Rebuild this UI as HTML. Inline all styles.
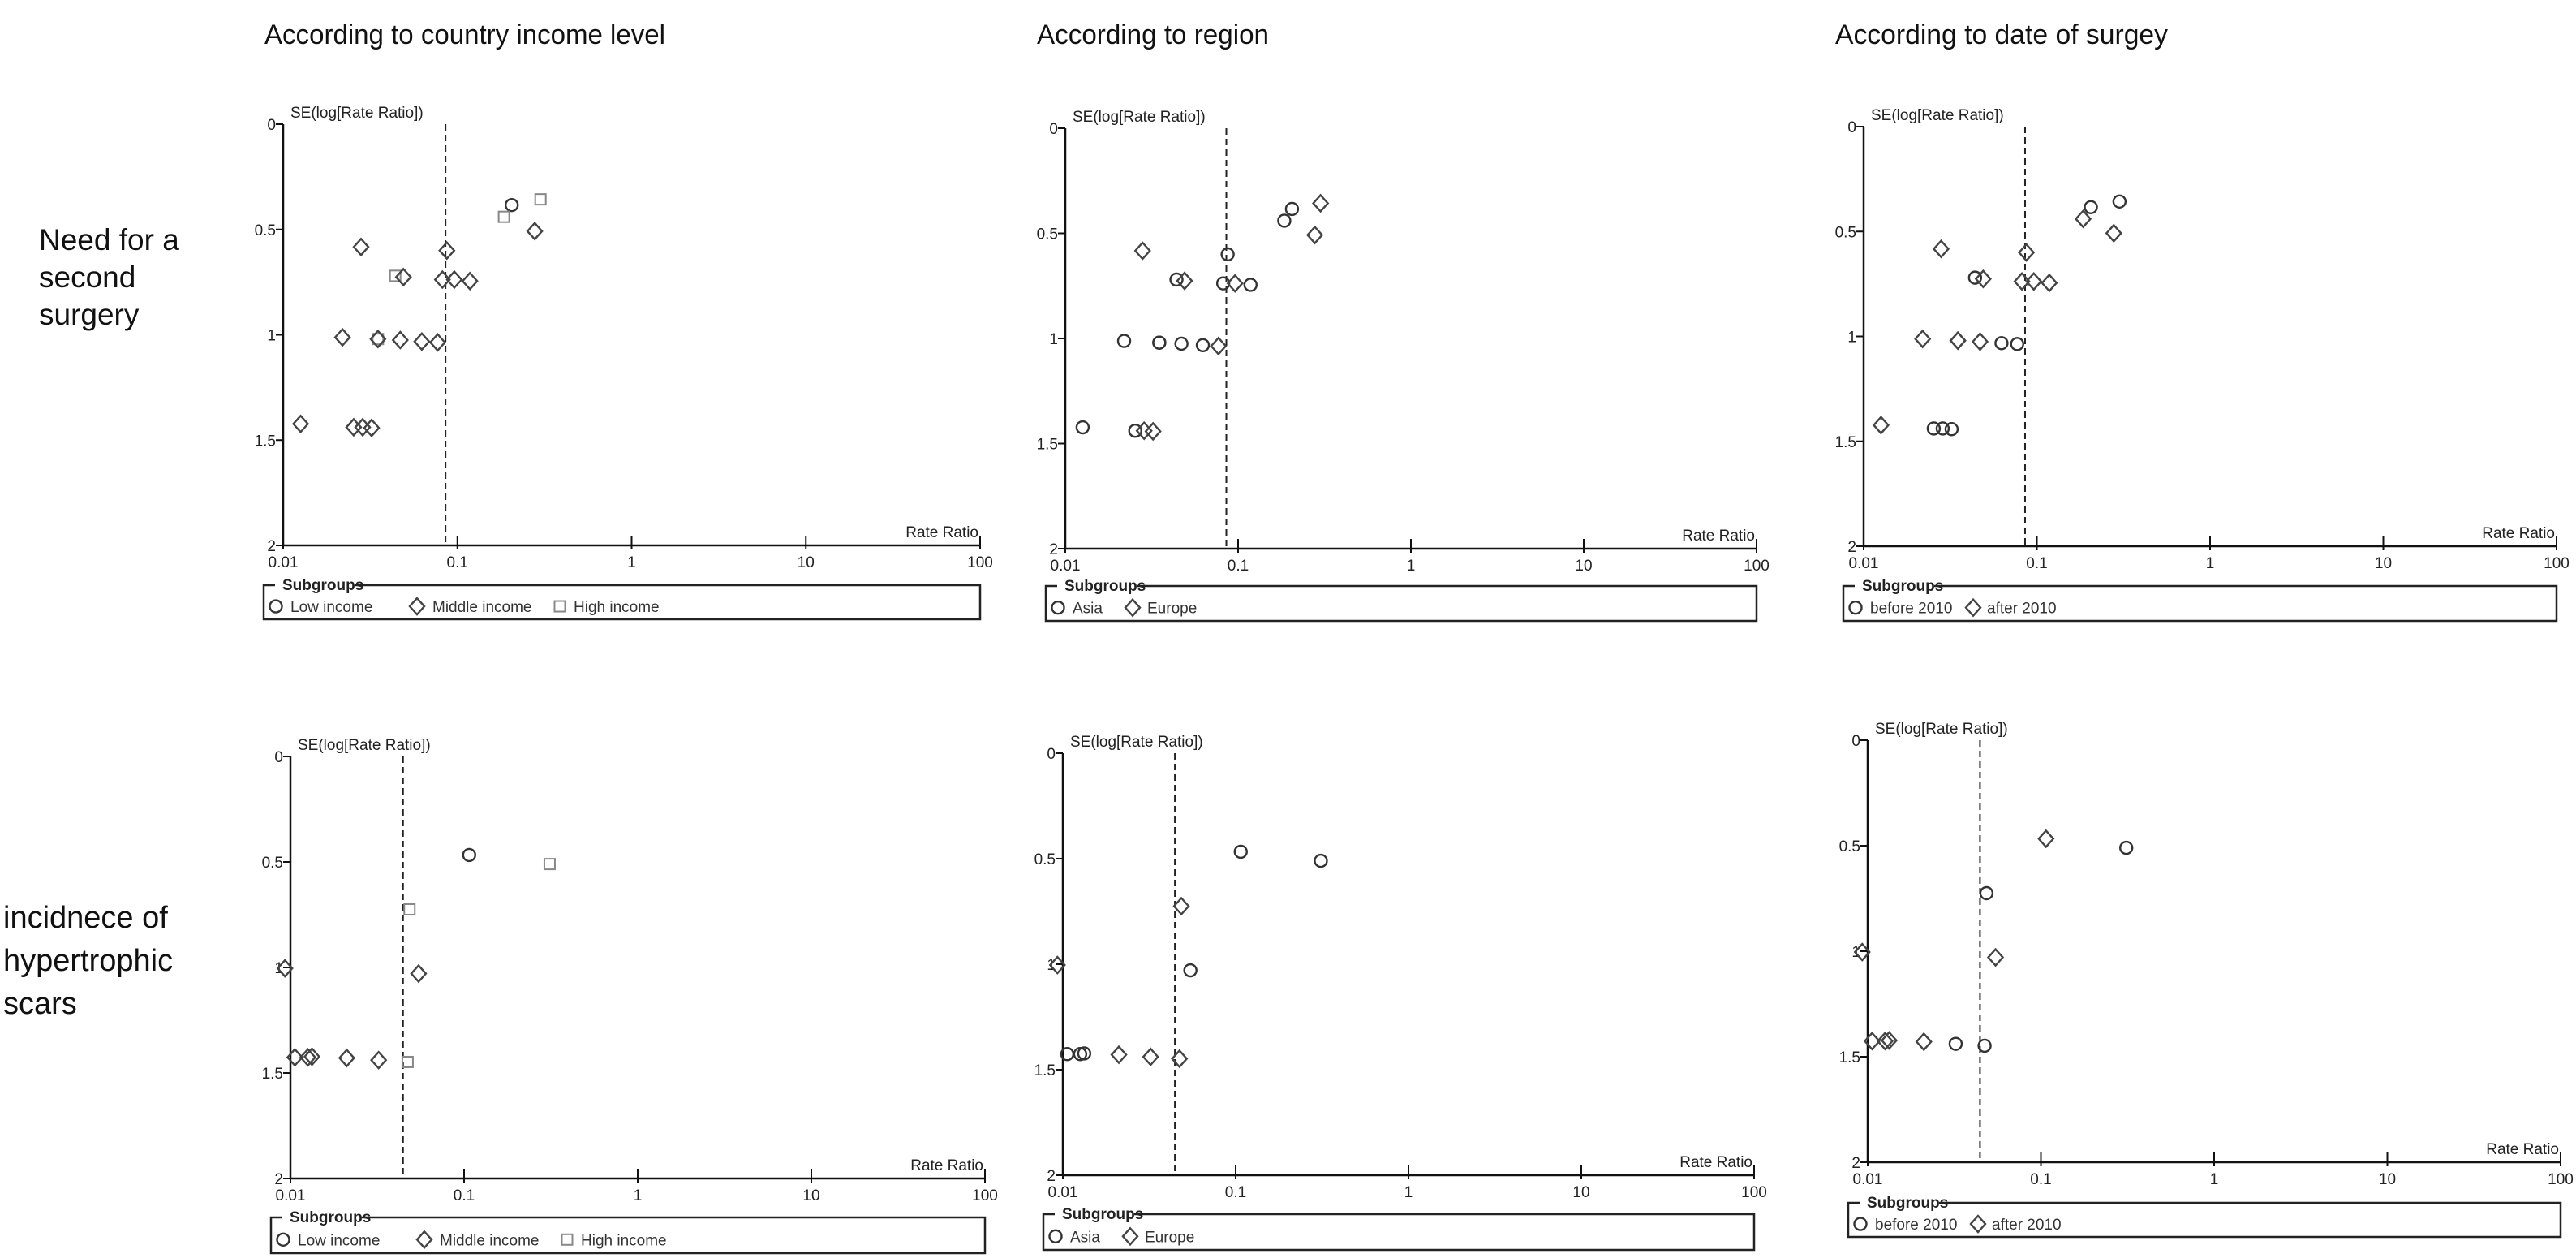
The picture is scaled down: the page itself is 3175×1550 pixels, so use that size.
<!DOCTYPE html>
<html><head><meta charset="utf-8"><style>
html,body{margin:0;padding:0;background:#fff;}
svg{display:block;font-family:"Liberation Sans",Arial,sans-serif;}
</style></head><body>
<svg id="fig" width="3175" height="1550" viewBox="0 0 3175 1550">
<text x="326" y="54" font-size="34" textLength="494" lengthAdjust="spacingAndGlyphs" fill="#111">According to country income level</text>
<text x="1278" y="54" font-size="34" textLength="286" lengthAdjust="spacingAndGlyphs" fill="#111">According to region</text>
<text x="2262" y="54" font-size="34" textLength="410" lengthAdjust="spacingAndGlyphs" fill="#111">According to date of surgey</text>
<g font-size="37" fill="#111">
<text x="48" y="308">Need for a</text><text x="48" y="354">second</text><text x="48" y="400">surgery</text></g>
<g font-size="38" fill="#111">
<text x="4" y="1143">incidnece of</text><text x="4" y="1196">hypertrophic</text><text x="4" y="1249">scars</text></g>
</svg>
<script>
// Top row: need for a second surgery
const topRR = [0.205,0.30,0.185,0.044,0.035,0.028,0.278,0.087,0.049,0.082,0.096,0.118,0.0219,0.047,0.0625,0.077,0.0126,0.0254,0.0286,0.0322,0.035];
const topSE = [0.384,0.357,0.44,0.72,1.02,0.583,0.508,0.60,0.726,0.738,0.738,0.745,1.012,1.025,1.032,1.036,1.423,1.439,1.439,1.442,1.02];
const topIncome = ['L','H','H','H','H','M','M','M','M','M','M','M','M','M','M','M','M','M','M','M','M'];
const topRegion = ['A','E','A','A','A','E','E','A','E','A','E','A','A','A','A','E','A','A','E','E','A'];
const topDate = ['B','B','F','B','F','F','F','F','F','F','F','F','F','F','B','B','F','B','B','B','F'];
const topPooled = 0.0855;
// Bottom row: hypertrophic scars
const botRR = [0.107,0.311,0.0485,0.0473,0.0093,0.0547,0.0106,0.0126,0.0133,0.0211,0.0322];
const botSE = [0.467,0.51,0.725,1.448,1.004,1.029,1.426,1.426,1.423,1.429,1.439];
const botIncome = ['L','H','H','H','M','M','M','M','M','M','M'];
const botRegion = ['A','A','E','E','E','A','A','A','A','E','E'];
const botDate = ['F','B','B','B','F','F','F','F','F','F','B'];
const botPooled = 0.0445;
const xTicks = [0.01,0.1,1,10,100];
const xTickLabels = ['0.01','0.1','1','10','100'];
const yTicks = [0,0.5,1,1.5,2];
const yTickLabels = ['0','0.5','1','1.5','2'];

const NS='http://www.w3.org/2000/svg';
const svg=document.getElementById('fig');
function mk(tag,attrs,parent){const e=document.createElementNS(NS,tag);for(const k in attrs)e.setAttribute(k,attrs[k]);(parent||svg).appendChild(e);return e;}

const shapeMap={L:'circle',H:'square',M:'diamond',A:'circle',E:'diamond',B:'circle',F:'diamond'};
function marker(g,shape,x,y){
  let e;
  if(shape==='circle')e=mk('circle',{cx:x,cy:y,r:7.5,fill:'none',stroke:'#333','stroke-width':2.4},g);
  else if(shape==='diamond')e=mk('path',{d:`M${x} ${y-10}L${x+9} ${y}L${x} ${y+10}L${x-9} ${y}Z`,fill:'none',stroke:'#444','stroke-width':2.4},g);
  else e=mk('rect',{x:x-6.5,y:y-6.5,width:13,height:13,fill:'none',stroke:'#888','stroke-width':2},g);
  return e;
}

const panels=[
 {id:'income-top',ax:349,xr:1208,y0:153,y2:672,rr:topRR,se:topSE,grp:topIncome,pooled:topPooled,lx:325,ly:721,lh:42,
  leg:[['circle','Low income',15,33],['diamond','Middle income',189,208],['square','High income',365,382]]},
 {id:'region-top',ax:1313,xr:2165,y0:158,y2:676,rr:topRR,se:topSE,grp:topRegion,pooled:topPooled,lx:1289,ly:722,lh:43,
  leg:[['circle','Asia',15,33],['diamond','Europe',107,125]]},
 {id:'date-top',ax:2297,xr:3151,y0:156,y2:673,rr:topRR,se:topSE,grp:topDate,pooled:topPooled,lx:2272,ly:722,lh:43,
  leg:[['circle','before 2010',15,33],['diamond','after 2010',160,177]]},
 {id:'income-bottom',ax:358,xr:1214,y0:932,y2:1452,rr:botRR,se:botSE,grp:botIncome,pooled:botPooled,lx:334,ly:1500,lh:44,
  leg:[['circle','Low income',15,33],['diamond','Middle income',189,208],['square','High income',365,382]]},
 {id:'region-bottom',ax:1310,xr:2162,y0:928,y2:1448,rr:botRR,se:botSE,grp:botRegion,pooled:botPooled,lx:1286,ly:1496,lh:44,
  leg:[['circle','Asia',15,33],['diamond','Europe',107,125]]},
 {id:'date-bottom',ax:2302,xr:3156,y0:912,y2:1432,rr:botRR,se:botSE,grp:botDate,pooled:botPooled,lx:2278,ly:1482,lh:42,
  leg:[['circle','before 2010',15,33],['diamond','after 2010',160,177]]}
];

panels.forEach(p=>{
  const g=mk('g',{});
  
  
  const X=v=>p.ax+(Math.log10(v)+2)/4*(p.xr-p.ax);
  const Y=s=>p.y0+s/2*(p.y2-p.y0);
  const yAxis=mk('line',{x1:p.ax,y1:p.y0,x2:p.ax,y2:p.y2,stroke:'#111','stroke-width':2.5},g);
  
  
  const xAxis=mk('line',{x1:p.ax,y1:p.y2,x2:p.xr,y2:p.y2,stroke:'#111','stroke-width':2.5},g);
  
  
  yTicks.forEach((t,i)=>{
    mk('line',{x1:p.ax-9,y1:Y(t),x2:p.ax,y2:Y(t),stroke:'#111','stroke-width':2},g);
    const tx=mk('text',{x:p.ax-9,y:Y(t)+7,'font-size':19,'text-anchor':'end',fill:'#222'},g);
    tx.textContent=yTickLabels[i];
    
    
  });
  xTicks.forEach((t,i)=>{
    mk('line',{x1:X(t),y1:p.y2-12,x2:X(t),y2:p.y2+5,stroke:'#111','stroke-width':2},g);
    const tx=mk('text',{x:X(t),y:p.y2+27,'font-size':19,'text-anchor':'middle',fill:'#222'},g);
    tx.textContent=xTickLabels[i];
    
    
  });
  const yt=mk('text',{x:p.ax+9,y:p.y0-8,'font-size':19,fill:'#222'},g);
  yt.textContent='SE(log[Rate Ratio])';
  
  
  const xt=mk('text',{x:p.xr-2,y:p.y2-10,'font-size':19,'text-anchor':'end',fill:'#222'},g);
  xt.textContent='Rate Ratio';
  
  
  const pl=mk('line',{x1:X(p.pooled),y1:p.y0,x2:X(p.pooled),y2:p.y2,stroke:'#222','stroke-width':2,'stroke-dasharray':'8,5'},g);
  
  
  p.rr.forEach((v,i)=>{
    const m=marker(g,shapeMap[p.grp[i]],X(v),Y(p.se[i]));
    
    
  });
  const lg=mk('g',{},g);
  
  
  mk('rect',{x:p.lx,y:p.ly,width:p.xr-p.lx,height:p.lh,fill:'none',stroke:'#222','stroke-width':2.5},lg);
  mk('rect',{x:p.lx+14,y:p.ly-6,width:98,height:12,fill:'#fff'},lg);
  const st=mk('text',{x:p.lx+23,y:p.ly+6,'font-size':19,'font-weight':'bold',fill:'#222'},lg);
  st.textContent='Subgroups';
  
  
  p.leg.forEach(l=>{
    const mm=marker(lg,l[0],p.lx+l[2],p.ly+p.lh*0.62);
    
    
    const lt=mk('text',{x:p.lx+l[3],y:p.ly+p.lh*0.62+7,'font-size':19,fill:'#333'},lg);
    lt.textContent=l[1];
    
    
  });
});
</script>
</body></html>
